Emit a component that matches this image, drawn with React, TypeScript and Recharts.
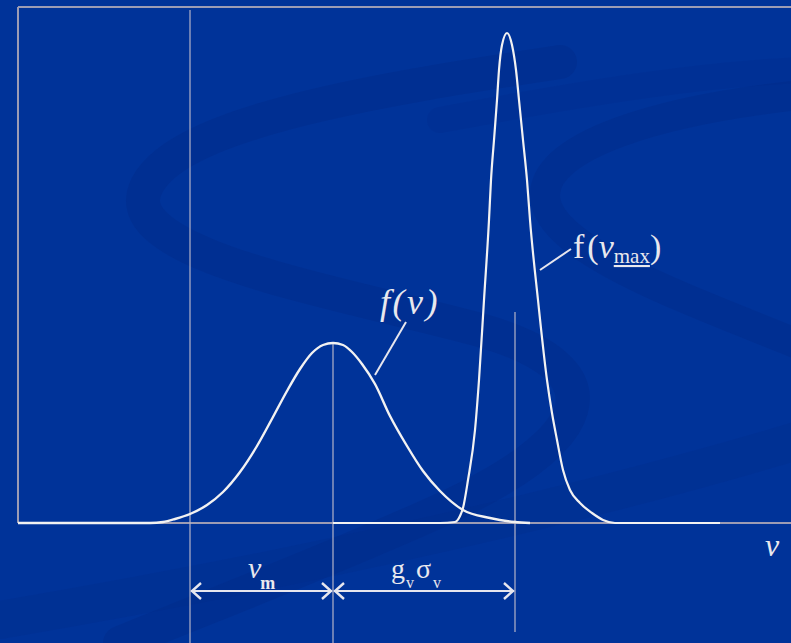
import React from "react";
import { LineChart, Line, XAxis, YAxis, ReferenceLine } from "recharts";

// velocity positions (v) and density heights (f)
const fvV = [0, 132, 145, 157, 172, 189, 205, 222, 239, 255, 269, 282, 294, 305, 315, 325, 334, 344, 357, 372, 389, 405, 422, 445, 472, 497, 512];
const fvF = [0, 0, 1, 4, 9, 18, 31, 51, 77, 106, 132, 154, 170, 178, 180, 178, 171, 159, 139, 107, 77, 52, 32, 13, 5, 1, 0];

const fmaxV = [315, 422, 437, 442, 445, 450, 457, 461, 466, 471, 473, 476, 479, 481, 484, 489, 494, 498, 501, 505, 509, 512, 520, 529, 534, 539, 545, 552, 562, 574, 585, 597, 702];
const fmaxF = [0, 0, 1, 7, 15, 43, 93, 143, 223, 303, 343, 383, 423, 453, 478, 490, 478, 453, 423, 383, 343, 303, 223, 143, 110, 83, 53, 33, 20, 10, 3, 0, 0];

// marker positions on the v axis
const vLow = 172;
const vMean = 315;
const vMax = 497;

const fvData = fvV.map((v, i) => ({ v, f: fvF[i] }));
const fmaxData = fmaxV.map((v, i) => ({ v, f: fmaxF[i] }));

const W = 791;
const H = 643;
const X_DOMAIN: [number, number] = [-18, 773];
const Y_DOMAIN: [number, number] = [-120, 523];
const px = (v: number) => ((v - X_DOMAIN[0]) / (X_DOMAIN[1] - X_DOMAIN[0])) * W;
const py = (f: number) => H - ((f - Y_DOMAIN[0]) / (Y_DOMAIN[1] - Y_DOMAIN[0])) * H;

const BG = "#003399";
const FRAME = "#9c9cb4";
const THIN = "#b4b4c8";
const WHITE = "#f2f2f2";
const TXT = "#e8e8ee";
const serif = "'Liberation Serif', 'DejaVu Serif', serif";

const Arrow = ({ x1, x2, y }: { x1: number; x2: number; y: number }) => (
  <g stroke="#e6e6ee" fill="none" strokeWidth={2}>
    <line x1={x1 + 1} y1={y} x2={x2 - 1} y2={y} />
    <polyline points={`${x1 + 11},${y - 8} ${x1 + 2},${y} ${x1 + 11},${y + 8}`} strokeWidth={2.4} />
    <polyline points={`${x2 - 11},${y - 8} ${x2 - 2},${y} ${x2 - 11},${y + 8}`} strokeWidth={2.4} />
  </g>
);

export default function App() {
  const arrowY = py(-68);
  return (
    <div style={{ position: "absolute", left: 0, top: 0, width: W, height: H, background: BG, overflow: "hidden" }}>
      <svg width={W} height={H} style={{ position: "absolute", left: 0, top: 0 }}>
        <g fill="none" stroke="#002a88" strokeOpacity={0.4} strokeLinecap="round">
          <path d="M 560 62 C 360 92, 170 125, 145 190 C 120 255, 330 290, 480 330 C 620 370, 600 440, 430 515 C 330 560, 200 610, 120 643" strokeWidth={34} />
          <path d="M 800 95 C 660 110, 545 145, 545 195 C 545 250, 690 300, 800 345" strokeWidth={30} />
          <path d="M 800 440 C 600 500, 350 560, 0 620" strokeWidth={38} strokeOpacity={0.25} />
          <path d="M 800 70 C 700 75, 600 90, 440 120" strokeWidth={26} strokeOpacity={0.2} />
        </g>
      </svg>
      <div style={{ position: "absolute", left: 0, top: 0 }}>
        <LineChart width={W} height={H} margin={{ top: 0, right: 0, bottom: 0, left: 0 }}>
          <XAxis type="number" dataKey="v" domain={X_DOMAIN} allowDataOverflow hide />
          <YAxis type="number" dataKey="f" domain={Y_DOMAIN} allowDataOverflow hide />
          <ReferenceLine segment={[{ x: 0, y: 516 }, { x: 773, y: 516 }]} stroke={FRAME} strokeWidth={2} ifOverflow="visible" />
          <ReferenceLine segment={[{ x: 0, y: 0 }, { x: 0, y: 516 }]} stroke={FRAME} strokeWidth={2} ifOverflow="visible" />
          <ReferenceLine segment={[{ x: 0, y: 0 }, { x: 773, y: 0 }]} stroke={FRAME} strokeWidth={2} ifOverflow="visible" />
          <ReferenceLine segment={[{ x: vLow, y: 513 }, { x: vLow, y: -120 }]} stroke={THIN} strokeWidth={1.2} ifOverflow="visible" />
          <ReferenceLine segment={[{ x: vMean, y: 180 }, { x: vMean, y: -120 }]} stroke={THIN} strokeWidth={1.2} ifOverflow="visible" />
          <ReferenceLine segment={[{ x: vMax, y: 211 }, { x: vMax, y: -109 }]} stroke={THIN} strokeWidth={1.2} ifOverflow="visible" />
          <Line data={fvData} dataKey="f" type="monotone" stroke={WHITE} strokeWidth={2.4} dot={false} isAnimationActive={false} />
          <Line data={fmaxData} dataKey="f" type="monotone" stroke={WHITE} strokeWidth={2.2} dot={false} isAnimationActive={false} />
        </LineChart>
      </div>
      <svg width={W} height={H} style={{ position: "absolute", left: 0, top: 0 }}>
        <g stroke="#e6e6ee" strokeWidth={2}>
          <line x1={375} y1={375} x2={406} y2={322} />
          <line x1={540} y1={270} x2={571} y2={249} />
        </g>
        <text x={380} y={314} fill={TXT} fontFamily={serif} fontSize={36} fontStyle="italic" letterSpacing={2.5}>
          f(v)
        </text>
        <text x={573} y={258} fill={TXT} fontFamily={serif} fontSize={34}>
          <tspan>f</tspan>
          <tspan dx={3}>(</tspan>
          <tspan fontStyle="italic">v</tspan>
          <tspan fontSize={21} dy={5} textDecoration="underline">max</tspan>
          <tspan dy={-5}>)</tspan>
        </text>
        <Arrow x1={px(vLow)} x2={px(vMean)} y={arrowY} />
        <Arrow x1={px(vMean)} x2={px(vMax)} y={arrowY} />
        <text x={248} y={578} fill={TXT} fontFamily={serif} fontSize={30} fontStyle="italic">
          v<tspan fontSize={18} fontStyle="normal" fontWeight="bold" dy={11} dx={-1}>m</tspan>
        </text>
        <text x={391} y={578} fill={TXT} fontFamily={serif} fontSize={28}>
          g<tspan fontSize={16} dy={10} dx={1}>v</tspan>
          <tspan dy={-10} dx={2}>σ</tspan>
          <tspan fontSize={16} dy={10} dx={2}>v</tspan>
        </text>
        <text x={765} y={556} fill={TXT} fontFamily={serif} fontSize={32} fontStyle="italic">
          v
        </text>
      </svg>
    </div>
  );
}
